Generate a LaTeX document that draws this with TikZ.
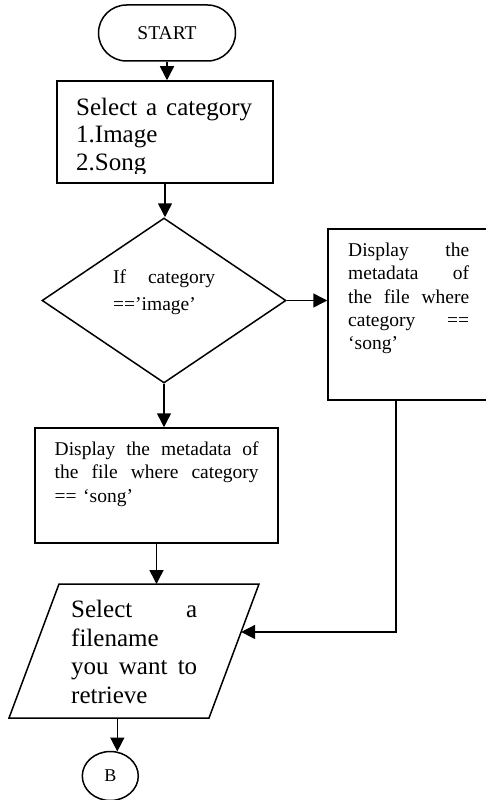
\documentclass[tikz,border=0pt]{standalone}
\usepackage{fontspec}
\setmainfont{Liberation Serif}
\usetikzlibrary{arrows.meta,shapes.geometric,shapes.misc,calc}
% a full-width line whose words are spread with \hfill
\newcommand\jline[2]{\leavevmode\hbox to #1{#2}}
\begin{document}
\begin{tikzpicture}[x=1pt,y=-1pt,
  box/.style={draw,line width=1.5pt,inner sep=0pt},
  flow/.style={draw,line width=1.5pt,-{Triangle[length=14pt,width=14pt]}},
  big/.style={font=\fontsize{25}{27.5}\selectfont},
  small/.style={font=\fontsize{19.5}{23.2}\selectfont},
  txt/.style={anchor=base west,inner sep=0pt,align=left}
]
\useasboundingbox (0,0) rectangle (486,800);

% terminator
\node[box,rounded rectangle,minimum width=137pt,minimum height=56pt,
      font=\fontsize{19.5}{23}\selectfont] (start) at (167,33) {START};

% category selection
\node[box,minimum width=216pt,minimum height=102pt] (sel) at (165,132) {};
\begin{scope}
  \clip (57,81) rectangle (273,173);
  \node[txt,big,text width=176pt] (seltext) at (76,115)
    {\jline{176pt}{Select\hfill a\hfill category}\\1.Image\\2.Song};
\end{scope}

% decision
\node[box,shape=diamond,minimum width=244pt,minimum height=165pt] (dec) at (164,300.5) {};
\node[txt,text width=102pt,font=\fontsize{19.5}{27}\selectfont] (dectext) at (113,283)
  {\jline{102pt}{If\hfill category}\\==’image’};

% metadata box (right branch)
\node[box,minimum width=160pt,minimum height=171pt] (meta2) at (408,314.5) {};
\node[txt,small,text width=122pt] (meta2text) at (348,256.7)
  {\jline{121pt}{Display\hfill the}\\
   \jline{121pt}{metadata\hfill of}\\
   \jline{121pt}{the\hfill file\hfill where}\\
   \jline{121pt}{category\hfill ==}\\
   ‘song’};

% metadata box (lower branch)
\node[box,minimum width=243pt,minimum height=115pt] (meta1) at (156.5,485.5) {};
\node[txt,text width=204pt,font=\fontsize{19.5}{23.8}\selectfont] (meta1text) at (54.5,455)
  {\jline{204pt}{Display\hfill the\hfill metadata\hfill of}\\
   \jline{204pt}{the\hfill file\hfill where\hfill category}\\
   == ‘song’};

% input: file name (parallelogram)
\coordinate (ptl) at (59,584);
\coordinate (ptr) at (259,584);
\coordinate (pbr) at (209,718);
\coordinate (pbl) at (9,718);
\draw[line width=1.5pt] (ptl) -- (ptr) -- (pbr) -- (pbl) -- cycle;
\coordinate (pin) at ($(ptr)!0.358!(pbr)$);
\node[txt,text width=126pt,font=\fontsize{25}{28.6}\selectfont] (picktext) at (71,617.7)
  {\jline{126pt}{Select\hfill a}\\
   filename\\
   \jline{126pt}{you\hfill want\hfill to}\\
   retrieve};

% off-page connector
\node[box,ellipse,minimum width=56pt,minimum height=49pt,
      font=\fontsize{18}{20}\selectfont] (B) at (110.3,776) {B};

% connectors
\draw[flow] (start.south) -- (start.south |- sel.north);
\draw[flow] (sel.south) -- (sel.south |- dec.north);
\draw[flow] (dec.east) -- (dec.east -| meta2.west);
\draw[flow] (dec.south) -- (dec.south |- meta1.north);
\draw[flow] (meta1.south) -- (meta1.south |- ptl);
\draw[flow] ([xshift=-12pt]meta2.south) |- (pin);
\draw[flow] (pbl -| B.74) -- (B.74);
\end{tikzpicture}
\end{document}
